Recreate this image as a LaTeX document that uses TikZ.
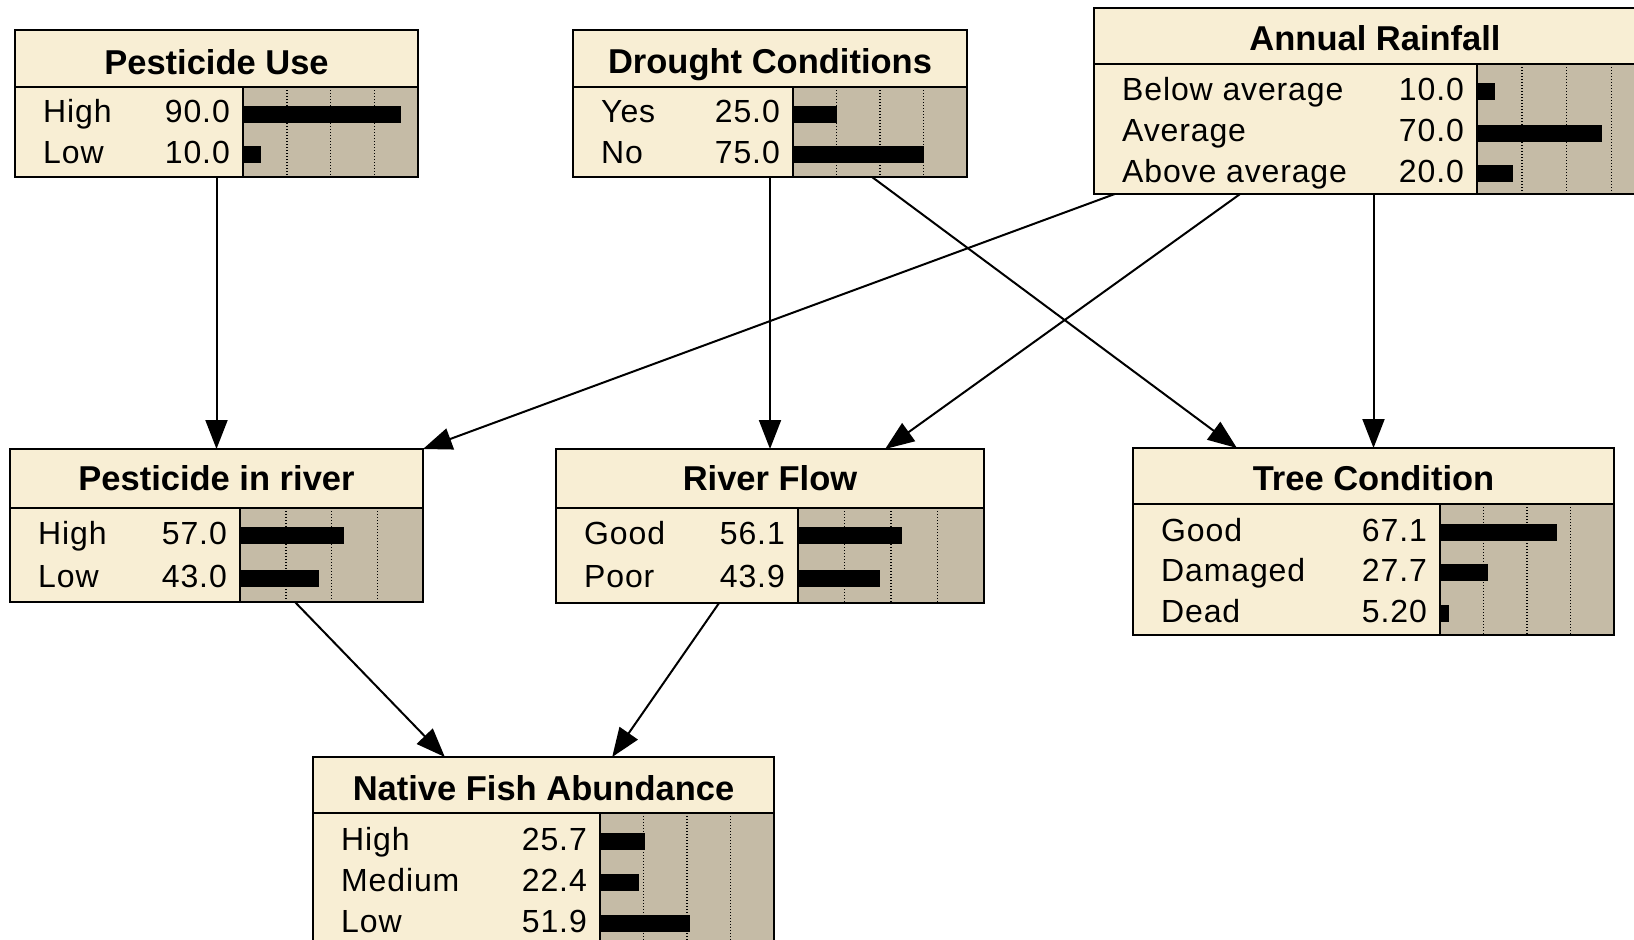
\documentclass[tikz,border=0pt]{standalone}
\usepackage{fontspec}
\setmainfont{Liberation Sans}
\newfontfamily\statefont[LetterSpace=2.7]{Liberation Sans}
\usetikzlibrary{arrows.meta,calc}

\definecolor{nodecream}{HTML}{F8EED4}
\definecolor{bargray}{HTML}{C5BBA6}

\tikzset{
  bnfill/.style={fill=nodecream, inner sep=0pt, outer sep=0pt, anchor=north west},
  bnborder/.style={draw=black, line width=2pt},
  gridtick/.style={draw=black, line width=1.5pt, dash pattern=on 1.2pt off 1.8pt},
  rowtext/.style={font=\statefont\fontsize{32}{38}\selectfont, inner sep=0pt},
  titletext/.style={font=\bfseries\fontsize{34.5}{40}\selectfont, inner sep=0pt},
  link/.style={draw=black, line width=2pt, -{Triangle[length=29pt,width=22pt]}},
}

% Belief node: name, left, top, right, bottom, divider y, bar-area left, title, title baseline
\newcommand\bnnode[9]{%
  \node[bnfill, minimum width={(#4-#2)*1pt}, minimum height={(#5-#3)*1pt}] (#1) at (#2,#3) {};
  \fill[bargray] (#7,#6) rectangle (#4,#5);
  \foreach \f in {0.25,0.5,0.75}
    \draw[gridtick] ({#7+(#4-#7)*\f},#6) -- ({#7+(#4-#7)*\f},#5);
  \draw[bnborder] (#1.north west) rectangle (#1.south east);
  \draw[bnborder] (#2,#6) -- (#4,#6);
  \draw[bnborder] (#7,#6) -- (#7,#5);
  \node[titletext, anchor=base] (#1-title) at ({(#2+#4)/2},#9) {#8};
  \def\curx{#2}\def\curbar{#7}\def\curr{#4}%
}

% State row: name, baseline y, label, value, percent
\newcommand\bnrow[5]{%
  \node[rowtext, anchor=base west] (#1-label) at (\curx+28,#2) {#3};
  \node[rowtext, anchor=base east] (#1-value) at (\curbar-13,#2) {#4};
  \fill ({\curbar+1},#2-17) rectangle ({\curbar+(\curr-\curbar)*#5/100},#2);
}

\begin{document}
\begin{tikzpicture}[x=1pt, y=-1pt]
  \useasboundingbox (0,0) rectangle (1634,940);
  \clip (0,0) rectangle (1634,940);
  \fill[white] (0,0) rectangle (1634,940);

  \bnnode{pu}{15}{30}{418}{177}{87}{243}{Pesticide Use}{74}
  \bnrow{pu-high}{122.5}{High}{90.0}{90}
  \bnrow{pu-low}{163}{Low}{10.0}{10}

  \bnnode{dc}{573}{30}{967}{177}{87}{793}{Drought Conditions}{73}
  \bnrow{dc-yes}{122.5}{Yes}{25.0}{25}
  \bnrow{dc-no}{163}{No}{75.0}{75}

  \bnnode{ar}{1094}{8}{1656}{194}{64}{1477}{Annual Rainfall}{50}
  \bnrow{ar-below}{100}{Below average}{10.0}{10}
  \bnrow{ar-avg}{141.5}{Average}{70.0}{70}
  \bnrow{ar-above}{182}{Above average}{20.0}{20}

  \bnnode{pir}{10}{449}{423}{602}{508}{240}{Pesticide in river}{490}
  \bnrow{pir-high}{544}{High}{57.0}{57}
  \bnrow{pir-low}{587}{Low}{43.0}{43}

  \bnnode{rf}{556}{449}{984}{603}{508}{798}{River Flow}{490}
  \bnrow{rf-good}{544}{Good}{56.1}{56.1}
  \bnrow{rf-poor}{587}{Poor}{43.9}{43.9}

  \bnnode{tc}{1133}{448}{1614}{635}{504}{1440}{Tree Condition}{490}
  \bnrow{tc-good}{541}{Good}{67.1}{67.1}
  \bnrow{tc-damaged}{581}{Damaged}{27.7}{27.7}
  \bnrow{tc-dead}{622}{Dead}{5.20}{5.2}

  \bnnode{nfa}{313}{757}{774}{960}{813}{600}{Native Fish Abundance}{800}
  \bnrow{nfa-high}{850}{High}{25.7}{25.7}
  \bnrow{nfa-medium}{891}{Medium}{22.4}{22.4}
  \bnrow{nfa-low}{932}{Low}{51.9}{51.9}

  % causal links
  \draw[link] (pu.south) -- (pu.south |- pir.north);
  \draw[link] (dc.south) -- (rf.north);
  \draw[link] ($(dc.south west)!0.759!(dc.south east)$) -- ($(tc.north west)!0.216!(tc.north east)$);
  \draw[link] ($(ar.south west)!0.037!(ar.south east)$) -- (pir.north east);
  \draw[link] ($(ar.south west)!0.26!(ar.south east)$) -- ($(rf.north west)!0.769!(rf.north east)$);
  \draw[link] (tc.north |- ar.south) -- (tc.north);
  \draw[link] ($(pir.south west)!0.69!(pir.south east)$) -- ($(nfa.north west)!0.286!(nfa.north east)$);
  \draw[link] ($(rf.south west)!0.381!(rf.south east)$) -- ($(nfa.north west)!0.649!(nfa.north east)$);
\end{tikzpicture}
\end{document}
